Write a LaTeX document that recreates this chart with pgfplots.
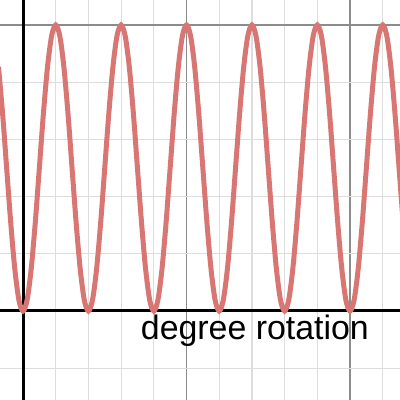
\documentclass[border=0pt]{standalone}
\usepackage{pgfplots}
\pgfplotsset{compat=1.18}
\usepackage{fontspec}
\setmainfont{Liberation Sans}

\definecolor{curvered}{RGB}{215,118,115}
\definecolor{majorgrid}{RGB}{140,140,140}
\definecolor{minorgrid}{RGB}{221,221,221}

\begin{document}
\begin{tikzpicture}
  \begin{axis}[
      scale only axis,
      width=400bp,
      height=400bp,
      xmin=-0.7034, xmax=11.529,
      ymin=-1.556, ymax=5.437,
      axis lines=middle,
      axis line style={-, black, line width=3bp},
      xtick={0,5,10},
      ytick={0,5},
      minor xtick={-1,1,2,3,4,6,7,8,9,11},
      minor ytick={-1,1,2,3,4},
      xticklabels={},
      yticklabels={},
      major tick length=0pt,
      minor tick length=0pt,
      grid=both,
      major grid style={majorgrid, line width=1.2bp},
      minor grid style={minorgrid, line width=1.2bp},
      clip=true,
    ]

    % y = 2.5(1-cos(pi x)), read at 1/16 period
    \addplot[curvered, line width=5bp, smooth] coordinates {
      (-0.75,4.268) (-0.625,3.457) (-0.5,2.5) (-0.375,1.543) (-0.25,0.732) (-0.125,0.190)
      (0,0) (0.125,0.190) (0.25,0.732) (0.375,1.543) (0.5,2.5) (0.625,3.457) (0.75,4.268) (0.875,4.810)
      (1,5) (1.125,4.810) (1.25,4.268) (1.375,3.457) (1.5,2.5) (1.625,1.543) (1.75,0.732) (1.875,0.190)
      (2,0) (2.125,0.190) (2.25,0.732) (2.375,1.543) (2.5,2.5) (2.625,3.457) (2.75,4.268) (2.875,4.810)
      (3,5) (3.125,4.810) (3.25,4.268) (3.375,3.457) (3.5,2.5) (3.625,1.543) (3.75,0.732) (3.875,0.190)
      (4,0) (4.125,0.190) (4.25,0.732) (4.375,1.543) (4.5,2.5) (4.625,3.457) (4.75,4.268) (4.875,4.810)
      (5,5) (5.125,4.810) (5.25,4.268) (5.375,3.457) (5.5,2.5) (5.625,1.543) (5.75,0.732) (5.875,0.190)
      (6,0) (6.125,0.190) (6.25,0.732) (6.375,1.543) (6.5,2.5) (6.625,3.457) (6.75,4.268) (6.875,4.810)
      (7,5) (7.125,4.810) (7.25,4.268) (7.375,3.457) (7.5,2.5) (7.625,1.543) (7.75,0.732) (7.875,0.190)
      (8,0) (8.125,0.190) (8.25,0.732) (8.375,1.543) (8.5,2.5) (8.625,3.457) (8.75,4.268) (8.875,4.810)
      (9,5) (9.125,4.810) (9.25,4.268) (9.375,3.457) (9.5,2.5) (9.625,1.543) (9.75,0.732) (9.875,0.190)
      (10,0) (10.125,0.190) (10.25,0.732) (10.375,1.543) (10.5,2.5) (10.625,3.457) (10.75,4.268) (10.875,4.810)
      (11,5) (11.125,4.810) (11.25,4.268) (11.375,3.457) (11.5,2.5) (11.625,1.543)
    };

    \node[anchor=base west, inner sep=0pt, font=\fontsize{34}{40}\selectfont]
      at (axis cs:3.60,-0.49) {degree rotation};
  \end{axis}
  \pgfresetboundingbox
  \path (current axis.south west) rectangle (current axis.north east);
\end{tikzpicture}
\end{document}
